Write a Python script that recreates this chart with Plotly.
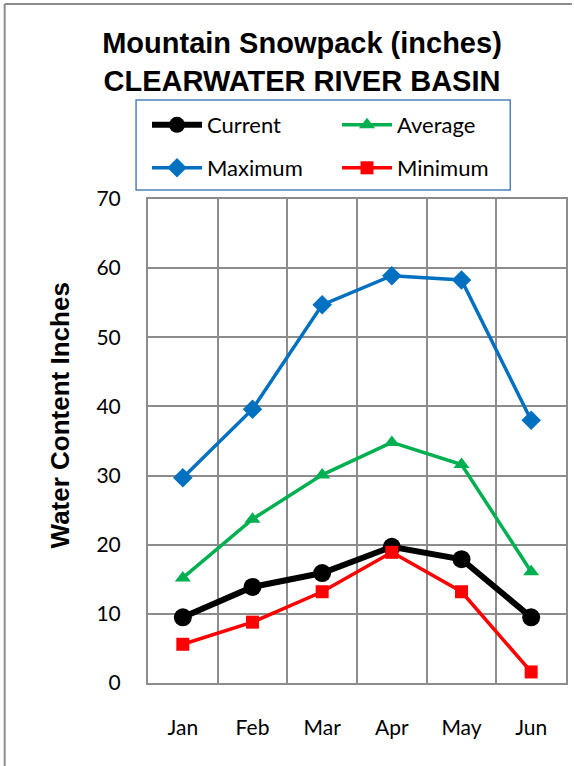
import plotly.graph_objects as go

months = ["Jan", "Feb", "Mar", "Apr", "May", "Jun"]
current = [9.5, 13.9, 15.9, 19.7, 17.9, 9.5]
average = [15.2, 23.7, 30.1, 34.8, 31.6, 16.1]
maximum = [29.7, 39.6, 54.7, 58.9, 58.3, 38.0]
minimum = [5.6, 8.8, 13.2, 18.9, 13.2, 1.6]

W, H = 574, 766
L, R, T, B = 148, 6, 199, 83
pw, ph = W - L - R, H - T - B

def px(x):
    return (x - L) / pw

def py(y):
    return (H - B - y) / ph

fig = go.Figure()
fig.add_trace(go.Scatter(x=months, y=current, name="Current", mode="lines+markers",
                         line=dict(color="black", width=6),
                         marker=dict(symbol="circle", size=18, color="black"),
                         legend="legend"))
fig.add_trace(go.Scatter(x=months, y=average, name="Average", mode="lines+markers",
                         line=dict(color="#00B050", width=3.5),
                         marker=dict(symbol="triangle-up", size=14, color="#00B050"),
                         legend="legend"))
fig.add_trace(go.Scatter(x=months, y=maximum, name="Maximum", mode="lines+markers",
                         line=dict(color="#0070C0", width=3.5),
                         marker=dict(symbol="diamond", size=15, color="#0070C0"),
                         legend="legend2"))
fig.add_trace(go.Scatter(x=months, y=minimum, name="Minimum", mode="lines+markers",
                         line=dict(color="#FF0000", width=3.5),
                         marker=dict(symbol="square", size=13, color="#FF0000"),
                         legend="legend2"))

leg_common = dict(orientation="h", xanchor="left", yanchor="middle",
                  font=dict(family="Lato", size=22, color="black"),
                  bgcolor="rgba(0,0,0,0)", borderwidth=0,
                  entrywidth=125, itemwidth=50)

fig.update_layout(
    width=W, height=H,
    margin=dict(l=L, r=R, t=T, b=B),
    paper_bgcolor="white", plot_bgcolor="white",
    title=dict(text="<b>Mountain Snowpack (inches)<br>CLEARWATER RIVER BASIN</b>",
               x=302 / W, xanchor="center", y=1 - 53 / H, yanchor="middle",
               font=dict(family="Liberation Sans", size=29, color="black")),
    legend=dict(x=px(147), y=py(125), **leg_common),
    legend2=dict(x=px(147), y=py(168), **leg_common),
    xaxis=dict(type="category", range=[-0.5, 5.5], tickson="boundaries",
               showgrid=True, gridcolor="#8C8C8C", gridwidth=2,
               showline=True, linecolor="#8C8C8C", linewidth=2, mirror=True,
               ticks="", ticklabelstandoff=25,
               tickfont=dict(family="Lato", size=21, color="black"), fixedrange=True),
    yaxis=dict(range=[0, 70], dtick=10, showgrid=True, gridcolor="#8C8C8C", gridwidth=2,
               showline=True, linecolor="#8C8C8C", linewidth=2, mirror=True,
               ticks="", ticklabelstandoff=21, zeroline=False,
               tickfont=dict(family="Lato", size=21, color="black")),
    annotations=[dict(text="<b>Water Content Inches</b>", textangle=-90,
                      xref="paper", yref="paper", x=px(60), y=py(415),
                      xanchor="center", yanchor="middle", showarrow=False,
                      font=dict(family="Liberation Sans", size=26, color="black"))],
    shapes=[
        dict(type="rect", xref="paper", yref="paper", x0=px(136), x1=px(512),
             y0=py(100), y1=py(190), line=dict(color="#4F81BD", width=1.5)),
        dict(type="line", xref="paper", yref="paper", x0=px(4), x1=px(4),
             y0=py(4), y1=py(766), line=dict(color="#8C8C8C", width=2)),
        dict(type="line", xref="paper", yref="paper", x0=px(4), x1=px(574),
             y0=py(4), y1=py(4), line=dict(color="#8C8C8C", width=2)),
    ],
)

fig.write_html("out.html", config={"displayModeBar": False},
               post_script="document.body.style.margin='0px';")
